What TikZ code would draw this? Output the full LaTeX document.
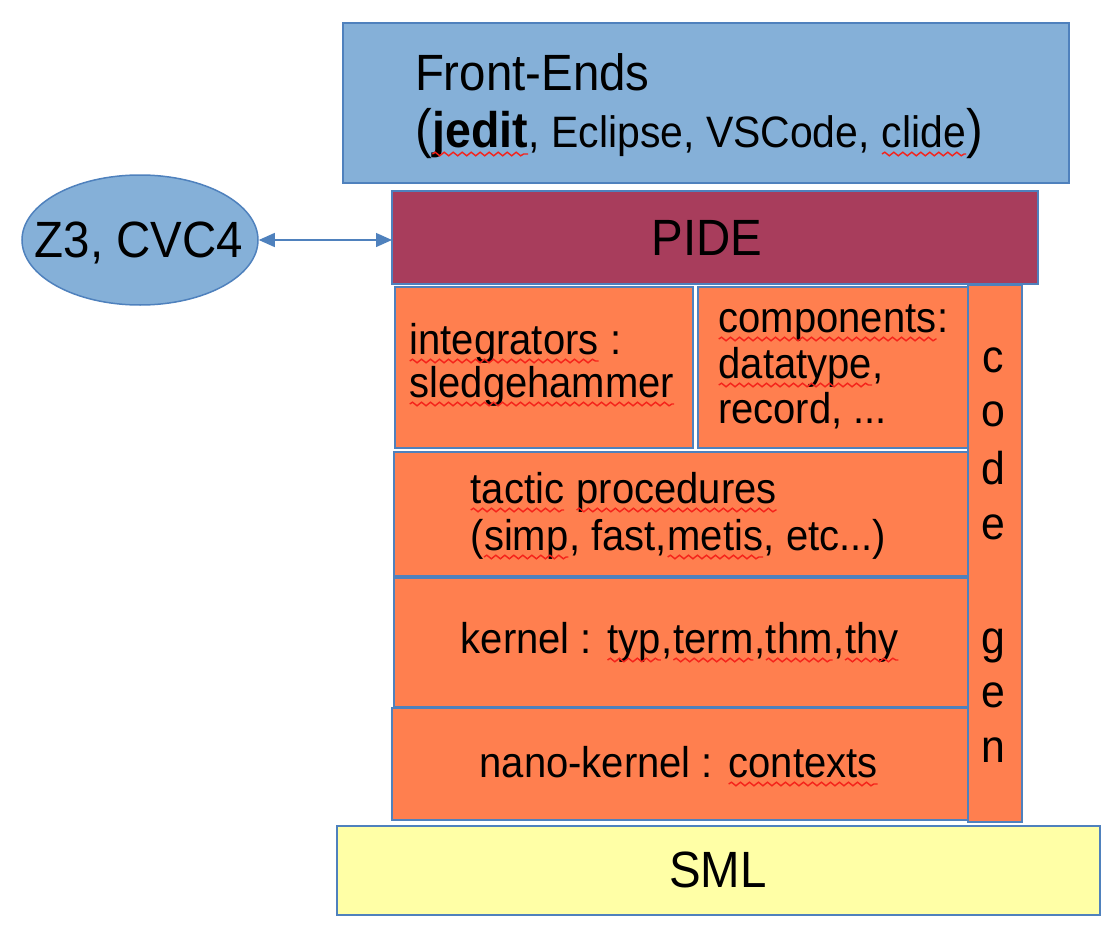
\documentclass[tikz,border=0pt]{standalone}
\usepackage{fontspec}
\setmainfont{Liberation Sans}[FakeStretch=0.93]
\usetikzlibrary{arrows.meta,decorations.pathmorphing,shapes.geometric}
\definecolor{bordc}{HTML}{4F81BD}
\definecolor{feblue}{HTML}{85B0D8}
\definecolor{pidec}{HTML}{A83D5C}
\definecolor{orangec}{HTML}{FF7F4F}
\definecolor{smlc}{HTML}{FFFFA6}
\definecolor{sqred}{HTML}{F5221A}
\tikzset{
  layer/.style={draw=bordc, line width=1.5pt, inner sep=0pt, outer sep=0pt, anchor=north west},
  sqline/.style={draw=sqred, line width=1.4pt, decorate, decoration={snake, amplitude=1.8pt, segment length=9pt}},
  lbl/.style={inner sep=0pt, outer sep=0pt, text=black},
  big/.style={lbl, font=\fontsize{51}{58}\selectfont},
  small/.style={lbl, font=\fontsize{43}{48}\selectfont},
  cgl/.style={lbl, font=\fontsize{46}{52}\selectfont, anchor=base},
  link/.style={draw=bordc, line width=1.3pt, {Triangle[length=16pt,width=14pt]}-{Triangle[length=16pt,width=14pt]}},
}
\newcommand\fsz[2]{\fontsize{#1}{#2}\selectfont}
\newcommand\sq[1]{\tikz[baseline=(sqw.base)]{\node[inner sep=0pt,outer sep=0pt,anchor=base west](sqw) at (0,0){#1};\draw[sqline]([yshift=-7pt]sqw.base west)--([yshift=-7pt]sqw.base east);}}
\begin{document}
\begin{tikzpicture}[x=1pt,y=-1pt]
\useasboundingbox (0,0) rectangle (1112,934);
% boxes
\node[layer, fill=feblue, minimum width=726pt, minimum height=160pt] (fe) at (343,23) {};
\node[layer, fill=pidec, minimum width=646pt, minimum height=93pt] (pide) at (392,191) {};
\node[layer, fill=orangec, minimum width=298pt, minimum height=161pt] (integ) at (395,287) {};
\node[layer, fill=orangec, minimum width=270pt, minimum height=161pt] (comp) at (698,287) {};
\node[layer, fill=orangec, minimum width=54pt, minimum height=537pt] (codegen) at (968,285) {};
\node[layer, fill=orangec, minimum width=574pt, minimum height=124pt] (tactic) at (394,452) {};
\node[layer, fill=orangec, minimum width=574pt, minimum height=129pt] (kernel) at (394,578) {};
\node[layer, fill=orangec, minimum width=576pt, minimum height=112pt] (nano) at (392,708) {};
\node[layer, fill=smlc, minimum width=763pt, minimum height=89pt] (sml) at (337,826) {};
\node[ellipse, draw=bordc, line width=1.5pt, fill=feblue, minimum width=236pt, minimum height=130pt, inner sep=0pt] (z3) at (140,240) {};
% connector
\draw[link] (z3.east) -- (z3.east -| pide.west);
% texts
\node[big, anchor=base west] (tfe1) at (415,91) {Front-Ends};
\node[lbl, anchor=base west] (tfe2) at (415,147) {\fsz{54}{60}(\fsz{50}{58}\sq{\textbf{jedit}}\fsz{44}{48}, Eclipse, VSCode, \sq{clide}\fsz{54}{60})};
\node[big, anchor=base] (tpide) at (707,255) {PIDE};
\node[big, anchor=base] (tz3) at (139,257) {Z3, CVC4};
\node[small, anchor=base west] (ti1) at (409,354) {\sq{integrators} :};
\node[small, anchor=base west] (ti2) at (409,397) {\sq{sledgehammer}};
\node[small, anchor=base west] (tc1) at (718,332) {\sq{components}:};
\node[small, anchor=base west] (tc2) at (718,378) {\sq{datatype},};
\node[small, anchor=base west] (tc3) at (718,423) {record, ...};
\node[small, anchor=base west] (tt1) at (470,503) {\sq{tactic} \sq{procedures}};
\node[small, anchor=base west] (tt2) at (470,550) {(\sq{simp}, fast,\sq{metis}, etc...)};
\node[small, anchor=base] (tk) at (680,653) {kernel : \sq{typ},\sq{term},\sq{thm},\sq{thy}};
\node[small, anchor=base] (tn) at (679,777) {nano-kernel : \sq{contexts}};
\node[big, anchor=base] (tsml) at (718,887) {SML};
\node[cgl] (cg1) at (993,372) {c};
\node[cgl] (cg2) at (993,426) {o};
\node[cgl] (cg3) at (993,484) {d};
\node[cgl] (cg4) at (993,539) {e};
\node[cgl] (cg5) at (993,653) {g};
\node[cgl] (cg6) at (993,707) {e};
\node[cgl] (cg7) at (993,762) {n};
\end{tikzpicture}
\end{document}
